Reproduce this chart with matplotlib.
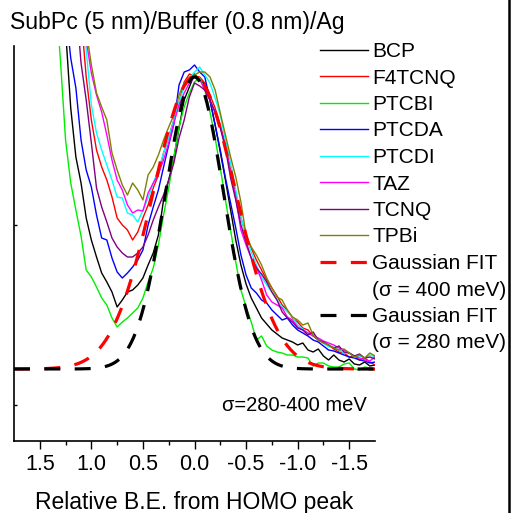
import numpy as np
import matplotlib
matplotlib.use('Agg')
import matplotlib.pyplot as plt
from matplotlib.lines import Line2D

plt.rcParams['font.family'] = ['Liberation Sans', 'DejaVu Sans']

# relative binding energy (eV) sampling of the UPS spectra
be = np.linspace(1.35, -1.75, 63)

# intensity (arb. units)
bcp = [520, 448, 375, 297, 248, 222, 187, 165, 148, 132, 123, 113, 98, 105, 113, 115, 120, 127, 140, 152,
       170, 205, 225, 247, 277, 305, 318, 331, 325, 321, 305, 280, 253, 225, 195, 165, 140, 121, 107, 97,
       87, 81, 75, 71, 67, 65, 63, 60, 62, 55, 53, 56, 49, 45, 50, 45, 43, 46, 41, 40, 43, 39, 40]
f4tcnq = [620, 575, 530, 485, 440, 390, 328, 285, 255, 238, 225, 208, 187, 180, 175, 165, 173, 187, 200, 217,
          230, 252, 268, 285, 303, 323, 331, 329, 328, 322, 310, 297, 280, 260, 235, 212, 187, 170, 157, 145,
          135, 125, 117, 109, 100, 95, 87, 83, 77, 75, 69, 65, 62, 60, 56, 53, 52, 48, 49, 45, 47, 43, 40]
ptcbi = [415, 345, 265, 222, 195, 169, 135, 128, 118, 107, 100, 87, 78, 83, 87, 92, 97, 107, 123, 137,
         160, 190, 217, 248, 278, 298, 312, 323, 327, 315, 293, 267, 237, 205, 175, 143, 115, 98, 83, 65,
         69, 59, 55, 53, 52, 50, 50, 48, 48, 47, 39, 42, 42, 39, 38, 38, 41, 42, 36, 35, 38, 37, 35]
ptcda = [470, 435, 395, 347, 317, 265, 235, 218, 190, 167, 165, 147, 133, 127, 132, 138, 145, 155, 180, 198,
         215, 238, 260, 281, 320, 333, 335, 340, 333, 328, 305, 280, 255, 227, 202, 177, 150, 130, 117, 112,
         105, 102, 95, 90, 85, 87, 80, 75, 72, 69, 65, 63, 59, 55, 54, 52, 50, 48, 47, 45, 44, 42, 43]
ptcdi = [650, 610, 570, 530, 490, 440, 355, 300, 272, 255, 240, 225, 208, 207, 192, 190, 183, 195, 207, 222,
         235, 252, 268, 285, 303, 318, 327, 333, 338, 330, 322, 307, 290, 265, 242, 215, 188, 168, 153, 140,
         128, 120, 113, 105, 98, 93, 88, 80, 76, 72, 70, 66, 62, 58, 58, 55, 52, 52, 48, 49, 47, 50, 48]
taz = [680, 640, 600, 560, 520, 470, 365, 332, 310, 293, 270, 245, 225, 215, 200, 192, 195, 194, 212, 222,
       231, 245, 262, 282, 300, 312, 322, 328, 326, 315, 305, 292, 278, 258, 232, 207, 175, 160, 147, 138,
       125, 110, 103, 100, 97, 88, 85, 78, 75, 72, 69, 67, 64, 62, 60, 57, 55, 52, 49, 47, 45, 44, 48]
tcnq = [550, 515, 480, 445, 405, 342, 305, 262, 217, 198, 183, 167, 158, 152, 148, 148, 152, 158, 170, 185,
        198, 210, 225, 242, 267, 285, 308, 322, 319, 315, 305, 293, 277, 257, 227, 205, 180, 163, 147, 137,
        131, 123, 113, 105, 93, 87, 83, 77, 75, 70, 73, 65, 63, 60, 57, 59, 53, 52, 49, 51, 47, 48, 46]
tpbi = [700, 660, 620, 580, 540, 490, 375, 340, 312, 298, 285, 252, 235, 220, 210, 222, 215, 205, 230, 238,
        250, 265, 278, 290, 310, 322, 328, 330, 333, 333, 328, 315, 292, 270, 248, 228, 203, 170, 158, 150,
        140, 127, 117, 108, 105, 95, 88, 85, 80, 82, 70, 65, 62, 60, 57, 55, 56, 52, 48, 50, 47, 52, 49]

names = ['BCP', 'F4TCNQ', 'PTCBI', 'PTCDA', 'PTCDI', 'TAZ', 'TCNQ', 'TPBi']
spectra = [bcp, f4tcnq, ptcbi, ptcda, ptcdi, taz, tcnq, tpbi]
colors = ['black', '#ff0000', '#00ee00', '#0000ff', '#00ffff', '#ff00ff', '#800080', '#808000']

# gaussian fits (sigma in eV)
fit_center = 0.0
fit_amp = 292
fit_offset = 36
fit_sigmas = [0.40, 0.28]
fit_colors = ['#ff0000', 'black']
fit_labels = ['(\u03c3 = 400 meV)', '(\u03c3 = 280 meV)']

fig = plt.figure(figsize=(5.11, 5.13), dpi=100)
ax = fig.add_axes([14 / 511, 1 - 441 / 513, 361 / 511, 395 / 513])

handles = []
labels = []
for name, vals, c in zip(names, spectra, colors):
    ln, = ax.plot(be, vals, color=c, lw=1.0)
    handles.append(ln)
    labels.append(name)

xf = np.linspace(1.75, -1.75, 351)
for s, c, lab in zip(fit_sigmas, fit_colors, fit_labels):
    yf = fit_offset + fit_amp * np.exp(-(xf - fit_center) ** 2 / (2 * s ** 2))
    ln, = ax.plot(xf, yf, color=c, lw=2.3, dashes=(5, 4.5))
    handles.append(ln)
    labels.append('Gaussian FIT')
    handles.append(Line2D([], [], linestyle='none'))
    labels.append(lab)

ax.set_xlim(1.75, -1.75)
ax.set_ylim(-36, 359)
ax.set_xticks([1.5, 1.0, 0.5, 0.0, -0.5, -1.0, -1.5])
ax.set_xticklabels(['1.5', '1.0', '0.5', '0.0', '-0.5', '-1.0', '-1.5'])
ax.set_xticks([1.25, 0.75, 0.25, -0.25, -0.75, -1.25], minor=True)
ax.set_yticks([0, 180])
ax.set_yticklabels([])
ax.tick_params(axis='x', which='major', direction='out', length=6, width=1, labelsize=15.5, pad=3)
ax.tick_params(axis='x', which='minor', direction='out', length=3, width=1)
ax.tick_params(axis='y', direction='in', length=2, width=1)
for sp in ['top', 'right']:
    ax.spines[sp].set_visible(False)
for sp in ['left', 'bottom']:
    ax.spines[sp].set_linewidth(1.2)

ax.set_xlabel('Relative B.E. from HOMO peak', fontsize=16.5, labelpad=12)
ax.text(0.978, 0.089, '\u03c3=280-400 meV', transform=ax.transAxes, ha='right', va='center', fontsize=14.5)
fig.text(10 / 511, 1 - 22 / 513, 'SubPc (5 nm)/Buffer (0.8 nm)/Ag', ha='left', va='center', fontsize=16.6)

ax.legend(handles, labels, loc='upper left', bbox_to_anchor=(320 / 511, 1 - 42 / 513),
          bbox_transform=fig.transFigure, frameon=False, fontsize=15, borderpad=0, borderaxespad=0,
          handlelength=2.3, handletextpad=0.22, labelspacing=0.36)

fig.add_artist(Line2D([508.5 / 511, 508.5 / 511], [0, 1], color='black', lw=1.8, transform=fig.transFigure))

fig.savefig('out.png', dpi=100)
